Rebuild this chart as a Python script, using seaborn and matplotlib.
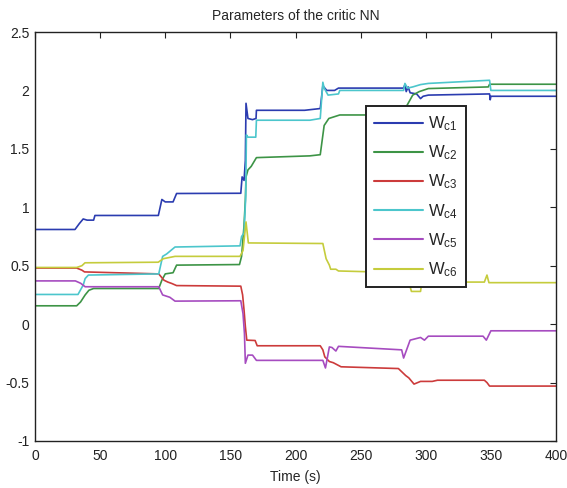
import numpy as np
import pandas as pd
import matplotlib
matplotlib.use("Agg")
import matplotlib.pyplot as plt
import seaborn as sns

# weights of the critic NN (time in s)
t_wc1 = [0, 30.7, 34, 37, 40, 45, 46, 94.7, 97.4, 100, 106, 108.7, 158, 159, 160.5, 161.5,
         162, 163.5, 167, 169.7, 170, 207, 219, 221, 222.5, 224, 230, 233, 283, 284, 285,
         286.5, 288, 293, 296, 298, 302, 349, 349.5, 350, 400]
wc1 = [0.81, 0.81, 0.86, 0.90, 0.89, 0.89, 0.93, 0.93, 1.067, 1.046, 1.046, 1.118, 1.12, 1.26,
       1.23, 1.40, 1.89, 1.76, 1.75, 1.76, 1.83, 1.83, 1.845, 2.04, 2.02, 2.00, 2.00, 2.02, 2.02,
       2.05, 1.99, 2.03, 1.98, 1.97, 1.93, 1.95, 1.96, 1.97, 1.92, 1.95, 1.95]

t_wc2 = [0, 32, 35, 38.5, 41.4, 45, 95, 97.4, 100, 106, 108.7, 157, 158.6, 160.4, 161.5, 162,
         163.5, 166, 170, 211, 219, 222, 225.6, 234, 283, 285.5, 290, 295, 302, 348, 349, 400]
wc2 = [0.157, 0.157, 0.19, 0.25, 0.29, 0.305, 0.305, 0.376, 0.43, 0.44, 0.505, 0.51, 0.58,
       0.83, 1.06, 1.26, 1.32, 1.35, 1.425, 1.44, 1.45, 1.70, 1.76, 1.79, 1.79, 1.87, 1.96, 1.99,
       2.016, 2.03, 2.053, 2.053]

t_wc3 = [0, 32, 36, 38, 95, 99, 102, 105, 108.7, 158, 159.4, 160.5, 161.5, 162.6, 169, 170.6,
         219, 221, 222.5, 226, 229, 235, 279, 284.6, 287, 291, 296, 305, 309, 345, 347, 349, 400]
wc3 = [0.48, 0.48, 0.462, 0.447, 0.43, 0.376, 0.36, 0.348, 0.33, 0.325, 0.25, 0.12, -0.02, -0.137,
       -0.14, -0.185, -0.185, -0.22, -0.28, -0.32, -0.33, -0.365, -0.38, -0.44, -0.46, -0.513,
       -0.49, -0.49, -0.48, -0.48, -0.50, -0.53, -0.53]

t_wc4 = [0, 33, 37, 38.5, 41, 95, 98, 101, 107.5, 157.4, 158.6, 160.5, 161.8, 162.3, 163.5, 169.5,
         170, 211, 219, 221, 222, 225, 233, 234, 283, 284, 286, 290, 296, 302, 349, 350, 400]
wc4 = [0.254, 0.254, 0.334, 0.39, 0.42, 0.43, 0.58, 0.60, 0.66, 0.67, 0.75, 0.78, 1.10, 1.62,
       1.60, 1.60, 1.745, 1.745, 1.76, 2.07, 2.02, 1.96, 1.97, 2.00, 2.00, 2.06, 2.02, 2.03, 2.05,
       2.06, 2.087, 2.00, 2.00]

t_wc5 = [0, 31, 35, 38.5, 95, 98, 103.5, 107.5, 158, 159.7, 160.8, 161.5, 163.5, 167, 170, 221,
         223, 226, 228, 231, 233, 281.5, 283, 288, 296, 299, 302, 344, 346.5, 350, 400]
wc5 = [0.37, 0.37, 0.35, 0.32, 0.32, 0.25, 0.23, 0.197, 0.20, 0.09, -0.08, -0.335, -0.265,
       -0.265, -0.31, -0.31, -0.375, -0.195, -0.20, -0.23, -0.19, -0.22, -0.29, -0.137, -0.114,
       -0.137, -0.103, -0.103, -0.137, -0.057, -0.057]

t_wc6 = [0, 32, 36, 38.4, 94.6, 98.5, 107.5, 157.4, 159.7, 162, 163.8, 221, 223.5, 226, 227,
         231, 233, 285, 289, 296, 297, 345, 347, 348.5, 400]
wc6 = [0.485, 0.485, 0.50, 0.525, 0.53, 0.56, 0.58, 0.58, 0.63, 0.875, 0.695, 0.69, 0.56, 0.505,
       0.47, 0.47, 0.455, 0.44, 0.28, 0.28, 0.36, 0.36, 0.42, 0.355, 0.355]

labels = [r"$\mathregular{W_{c1}}$", r"$\mathregular{W_{c2}}$", r"$\mathregular{W_{c3}}$",
          r"$\mathregular{W_{c4}}$", r"$\mathregular{W_{c5}}$", r"$\mathregular{W_{c6}}$"]
colors = ["#2b3cb0", "#3d9446", "#cc3b3b", "#4cc6cc", "#a64cc0", "#c5cc3c"]

sns.set_style("white")
plt.rcParams["font.family"] = ["Liberation Sans", "DejaVu Sans"]
plt.rcParams["mathtext.fontset"] = "custom"
plt.rcParams["mathtext.rm"] = "Liberation Sans"

fig = plt.figure(figsize=(5.67, 4.88), dpi=100)
ax = fig.add_axes([35 / 567, 47 / 488, 521 / 567, 409 / 488])

series = [(t_wc1, wc1), (t_wc2, wc2), (t_wc3, wc3), (t_wc4, wc4), (t_wc5, wc5), (t_wc6, wc6)]
for (t, w), lab, col in zip(series, labels, colors):
    df = pd.DataFrame({"t": t, "w": w})
    sns.lineplot(data=df, x="t", y="w", ax=ax, color=col, label=lab, linewidth=1.2,
                 estimator=None, sort=False)

ax.set_xlim(0, 400)
ax.set_ylim(-1, 2.5)
ax.set_xticks(np.arange(0, 401, 50))
ax.set_yticks(np.arange(-1, 2.51, 0.5))
ax.set_yticklabels(["-1", "-0.5", "0", "0.5", "1", "1.5", "2", "2.5"])
ax.tick_params(direction="in", top=True, right=True, length=4, width=0.8,
               labelsize=10, colors="#222222")
ax.tick_params(axis="x", pad=6)
ax.tick_params(axis="y", pad=4)
for s in ax.spines.values():
    s.set_color("#222222")
    s.set_linewidth(1.0)

ax.set_title("Parameters of the critic NN", fontsize=10, pad=9)
ax.set_xlabel("Time (s)", fontsize=10, labelpad=5)
ax.set_ylabel("")

leg = ax.legend(loc="upper left", bbox_to_anchor=(0.635, 0.819), borderaxespad=0,
                fontsize=12, handlelength=2.9, handletextpad=0.3, labelspacing=0.63,
                borderpad=0.5, fancybox=False, framealpha=1, edgecolor="#222222")
leg.get_frame().set_linewidth(1.4)
for line in leg.get_lines():
    line.set_linewidth(1.5)

fig.savefig("out.png", dpi=100)
